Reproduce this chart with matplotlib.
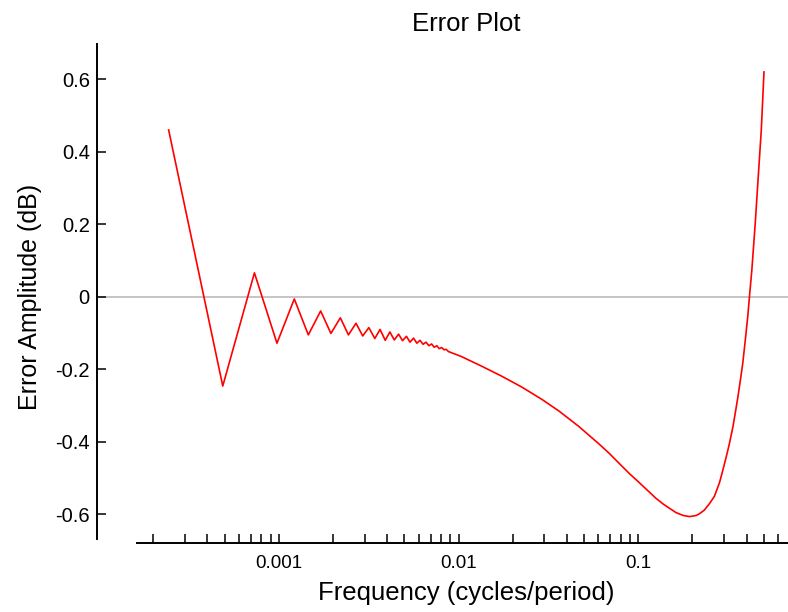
import matplotlib
matplotlib.use("Agg")
import matplotlib.pyplot as plt
from matplotlib.ticker import FixedLocator, LogLocator, NullFormatter

plt.rcParams['font.family'] = ['Liberation Sans', 'DejaVu Sans']
plt.rcParams['axes.unicode_minus'] = False

# Datos
freq = [0.000244, 0.000488, 0.000732, 0.000977, 0.00122, 0.00146, 0.00171,
        0.00195, 0.00220, 0.00244, 0.00269, 0.00293, 0.00317, 0.00342,
        0.00366, 0.00391, 0.00415, 0.00439, 0.00464, 0.00488, 0.00513,
        0.00537, 0.00562, 0.00586, 0.00610, 0.00635, 0.00659, 0.00684,
        0.00708, 0.00732, 0.00757, 0.00781, 0.00806, 0.00830, 0.00854,
        0.00879, 0.0104, 0.0134, 0.0174, 0.0225, 0.0291, 0.0362, 0.0468,
        0.0605, 0.069, 0.0785, 0.089, 0.1, 0.1256, 0.138, 0.162, 0.178,
        0.193, 0.21, 0.219, 0.233, 0.249, 0.265, 0.283, 0.293, 0.307,
        0.32, 0.336, 0.347, 0.358, 0.37, 0.381, 0.393, 0.406, 0.415,
        0.428, 0.447, 0.462, 0.483, 0.5]
error = [0.46, -0.246, 0.066, -0.128, -0.006, -0.105, -0.039,
         -0.101, -0.058, -0.105, -0.073, -0.108, -0.085, -0.115,
         -0.09, -0.12, -0.097, -0.119, -0.103, -0.121, -0.109,
         -0.125, -0.114, -0.128, -0.120, -0.131, -0.125, -0.135,
         -0.130, -0.139, -0.135, -0.143, -0.140, -0.146, -0.145,
         -0.151, -0.165, -0.191, -0.219, -0.249, -0.283, -0.315, -0.358,
         -0.406, -0.432, -0.46, -0.487, -0.51, -0.556, -0.572, -0.595, -0.603,
         -0.606, -0.603, -0.598, -0.588, -0.570, -0.550, -0.512, -0.484, -0.445,
         -0.408, -0.358, -0.317, -0.276, -0.228, -0.183, -0.122, -0.055, 0.0,
         0.074, 0.203, 0.313, 0.46, 0.62]

x_labels = [0.001, 0.01, 0.1]
y_ticks = [-0.6, -0.4, -0.2, 0, 0.2, 0.4, 0.6]

W, H = 788, 612
fig = plt.figure(figsize=(W / 100, H / 100), dpi=100)
ax = fig.add_axes([96.7 / W, 1 - 542.7 / H, (W - 96.7) / W, (542.7 - 44) / H])

ax.axhline(0, color='#c0c0c0', lw=1.3, zorder=1)
ax.plot(freq, error, color='red', lw=1.2, zorder=2)

ax.set_xscale('log')
ax.set_xlim(9.71e-5, 0.68)
ax.set_ylim(-0.678, 0.697)

ax.spines['top'].set_visible(False)
ax.spines['right'].set_visible(False)
ax.spines['left'].set_linewidth(1.4)
ax.spines['bottom'].set_linewidth(1.4)
ax.spines['bottom'].set_bounds(1.625e-4, 0.68)
ax.spines['left'].set_bounds(-0.668, 0.697)

ax.xaxis.set_major_locator(FixedLocator(x_labels))
ax.set_xticklabels(['%g' % v for v in x_labels])
ax.xaxis.set_minor_locator(LogLocator(base=10, subs=[2, 3, 4, 5, 6, 7, 8, 9], numticks=20))
ax.xaxis.set_minor_formatter(NullFormatter())
ax.set_yticks(y_ticks)
ax.set_yticklabels(['%g' % v for v in y_ticks])

ax.tick_params(axis='both', which='both', direction='in', length=6.5, width=1.1,
               color='black')
ax.tick_params(axis='x', pad=9, labelsize=13.5)
ax.tick_params(axis='y', pad=5, labelsize=14.5)

fig.text(466 / W, 1 - 24 / H, 'Error Plot', ha='center', va='center', fontsize=18.5)
fig.text(466 / W, 1 - 593 / H, 'Frequency (cycles/period)', ha='center', va='center',
         fontsize=18.5)
fig.text(30 / W, 1 - 297 / H, 'Error Amplitude (dB)', ha='center', va='center',
         rotation=90, fontsize=18)

fig.savefig('out.png', dpi=100)
